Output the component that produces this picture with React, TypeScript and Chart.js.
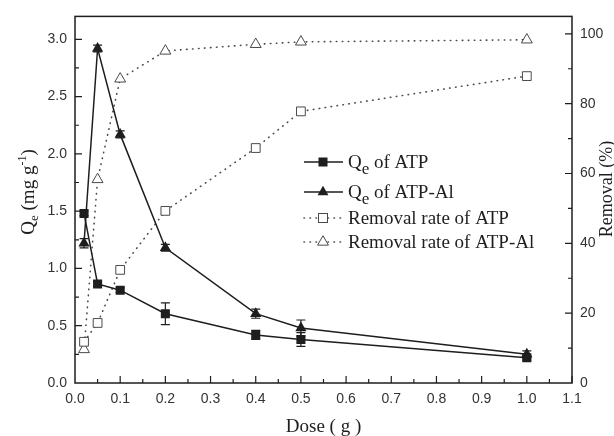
import React, { useEffect, useRef } from "react";
import { Chart, registerables } from "chart.js";

Chart.register(...registerables);

const doses = [0.02, 0.05, 0.1, 0.2, 0.4, 0.5, 1.0];
const qeATP = [1.48, 0.865, 0.81, 0.605, 0.42, 0.38, 0.22];
const qeATPErr = [0.02, 0.02, 0.02, 0.095, 0.04, 0.06, 0.02];
const qeATPAl = [1.22, 2.92, 2.17, 1.18, 0.605, 0.48, 0.25];
const qeATPAlErr = [0.04, 0.03, 0.03, 0.03, 0.04, 0.07, 0.03];
const removalATP = [11.8, 17.2, 32.4, 49.3, 67.3, 77.8, 87.9];
const removalATPAl = [9.6, 58.3, 87.1, 95.1, 97.0, 97.7, 98.3];

const xTicks = [0, 0.1, 0.2, 0.3, 0.4, 0.5, 0.6, 0.7, 0.8, 0.9, 1.0, 1.1];
const yTicks = [0, 0.5, 1.0, 1.5, 2.0, 2.5, 3.0];
const y1Ticks = [0, 20, 40, 60, 80, 100];

const SERIF = "'Liberation Serif', 'Times New Roman', serif";
const SANS = "'Liberation Sans', Arial, sans-serif";
const INK = "#1e1e1e";
const GRAY = "#4a4a4a";

const pts = (ys: number[]) => doses.map((x, i) => ({ x, y: ys[i] }));

const errorBarPlugin = {
  id: "errorBars",
  beforeDatasetsDraw(chart: any) {
    const ctx = chart.ctx;
    const xs = chart.scales.x;
    const ys = chart.scales.y;
    const sets = [
      { v: qeATP, e: qeATPErr },
      { v: qeATPAl, e: qeATPAlErr },
    ];
    ctx.save();
    ctx.strokeStyle = INK;
    ctx.lineWidth = 1.2;
    sets.forEach((s) => {
      doses.forEach((d, i) => {
        const px = xs.getPixelForValue(d);
        const y1 = ys.getPixelForValue(s.v[i] + s.e[i]);
        const y2 = ys.getPixelForValue(s.v[i] - s.e[i]);
        ctx.beginPath();
        ctx.moveTo(px, y1);
        ctx.lineTo(px, y2);
        ctx.moveTo(px - 4.5, y1);
        ctx.lineTo(px + 4.5, y1);
        ctx.moveTo(px - 4.5, y2);
        ctx.lineTo(px + 4.5, y2);
        ctx.stroke();
      });
    });
    ctx.restore();
  },
};

function drawMarker(ctx: any, kind: string, x: number, y: number) {
  ctx.save();
  if (kind === "fsq" || kind === "osq") {
    const s = 9;
    if (kind === "fsq") {
      ctx.fillStyle = INK;
      ctx.fillRect(x - s / 2, y - s / 2, s, s);
    } else {
      ctx.fillStyle = "#fff";
      ctx.strokeStyle = GRAY;
      ctx.lineWidth = 1;
      ctx.fillRect(x - s / 2, y - s / 2, s, s);
      ctx.strokeRect(x - s / 2, y - s / 2, s, s);
    }
  } else {
    const r = 6.3;
    ctx.beginPath();
    ctx.moveTo(x, y - r);
    ctx.lineTo(x + r * 0.866, y + r * 0.5);
    ctx.lineTo(x - r * 0.866, y + r * 0.5);
    ctx.closePath();
    if (kind === "ftri") {
      ctx.fillStyle = INK;
      ctx.fill();
    } else {
      ctx.fillStyle = "#fff";
      ctx.fill();
      ctx.strokeStyle = GRAY;
      ctx.lineWidth = 1;
      ctx.stroke();
    }
  }
  ctx.restore();
}

const framePlugin = {
  id: "frameAndText",
  afterDraw(chart: any) {
    const ctx = chart.ctx;
    const { left, right, top, bottom } = chart.chartArea;
    const xs = chart.scales.x;
    const ys = chart.scales.y;
    const y1s = chart.scales.y1;
    ctx.save();
    ctx.strokeStyle = INK;
    ctx.lineWidth = 1.5;
    ctx.strokeRect(left, top, right - left, bottom - top);
    ctx.lineWidth = 1.2;
    ctx.beginPath();
    for (let i = 1; i <= 22; i++) {
      const px = xs.getPixelForValue(i * 0.05);
      const len = i % 2 === 0 ? 7 : 4;
      ctx.moveTo(px, bottom);
      ctx.lineTo(px, bottom - len);
    }
    for (let i = 1; i <= 12; i++) {
      const py = ys.getPixelForValue(i * 0.25);
      const len = i % 2 === 0 ? 7 : 4;
      ctx.moveTo(left, py);
      ctx.lineTo(left + len, py);
    }
    for (let i = 1; i <= 10; i++) {
      const py = y1s.getPixelForValue(i * 10);
      const len = i % 2 === 0 ? 7 : 4;
      ctx.moveTo(right, py);
      ctx.lineTo(right - len, py);
    }
    ctx.stroke();

    // axis titles
    ctx.fillStyle = INK;
    ctx.textBaseline = "alphabetic";
    ctx.font = `19px ${SERIF}`;
    ctx.textAlign = "center";
    ctx.fillText("Dose ( g )", (left + right) / 2 - 0, 432);

    // left title (rotated)
    ctx.save();
    ctx.translate(34, 192);
    ctx.rotate(-Math.PI / 2);
    const parts: { t: string; size: number; dy: number }[] = [
      { t: "Q", size: 19, dy: 0 },
      { t: "e", size: 13, dy: 4 },
      { t: " (mg g", size: 19, dy: 0 },
      { t: "-1", size: 12, dy: -8 },
      { t: ")", size: 19, dy: 0 },
    ];
    let total = 0;
    parts.forEach((p) => {
      ctx.font = `${p.size}px ${SERIF}`;
      total += ctx.measureText(p.t).width;
    });
    let cx = -total / 2;
    ctx.textAlign = "left";
    parts.forEach((p) => {
      ctx.font = `${p.size}px ${SERIF}`;
      ctx.fillText(p.t, cx, p.dy);
      cx += ctx.measureText(p.t).width;
    });
    ctx.restore();

    // right title
    ctx.save();
    ctx.translate(612, 189);
    ctx.rotate(-Math.PI / 2);
    ctx.font = `18px ${SERIF}`;
    ctx.textAlign = "center";
    ctx.fillText("Removal (%)", 0, 0);
    ctx.restore();

    // legend
    const rows = [
      { y: 162, solid: true, marker: "fsq", label: "ATP", q: true },
      { y: 192, solid: true, marker: "ftri", label: "ATP-Al", q: true },
      { y: 218, solid: false, marker: "osq", label: "Removal rate of ATP", q: false },
      { y: 242, solid: false, marker: "otri", label: "Removal rate of ATP-Al", q: false },
    ];
    rows.forEach((r) => {
      ctx.save();
      ctx.beginPath();
      if (r.solid) {
        ctx.strokeStyle = INK;
        ctx.lineWidth = 1.5;
        ctx.setLineDash([]);
      } else {
        ctx.strokeStyle = GRAY;
        ctx.lineWidth = 1.6;
        ctx.lineCap = "round";
        ctx.setLineDash([0.5, 5.5]);
      }
      ctx.moveTo(304, r.y);
      ctx.lineTo(343, r.y);
      ctx.stroke();
      ctx.restore();
      drawMarker(ctx, r.marker, 323, r.y);
      ctx.fillStyle = INK;
      ctx.textAlign = "left";
      ctx.font = `19px ${SERIF}`;
      let tx = 348;
      const base = r.y + 6;
      if (r.q) {
        ctx.fillText("Q", tx, base);
        tx += ctx.measureText("Q").width;
        ctx.font = `17px ${SERIF}`;
        ctx.fillText("e", tx, base + 6);
        tx += ctx.measureText("e").width;
        ctx.font = `19px ${SERIF}`;
        ctx.fillText(" of " + r.label, tx, base);
      } else {
        ctx.fillText(r.label, tx, base);
      }
    });
    ctx.restore();
  },
};

export default function App() {
  const ref = useRef<HTMLCanvasElement | null>(null);
  useEffect(() => {
    if (!ref.current) return;
    const chart = new Chart(ref.current, {
      type: "line",
      data: {
        datasets: [
          {
            label: "Qe of ATP",
            data: pts(qeATP),
            yAxisID: "y",
            borderColor: INK,
            borderWidth: 1.5,
            pointStyle: "rect",
            pointRadius: 6.4,
            pointBackgroundColor: INK,
            pointBorderColor: INK,
            pointBorderWidth: 0,
            order: 0,
          },
          {
            label: "Qe of ATP-Al",
            data: pts(qeATPAl),
            yAxisID: "y",
            borderColor: INK,
            borderWidth: 1.5,
            pointStyle: "triangle",
            pointRadius: 6.5,
            pointBackgroundColor: INK,
            pointBorderColor: INK,
            pointBorderWidth: 0,
            order: 0,
          },
          {
            label: "Removal rate of ATP",
            data: pts(removalATP),
            yAxisID: "y1",
            borderColor: GRAY,
            borderWidth: 1.6,
            borderDash: [0.5, 5.5],
            borderCapStyle: "round",
            pointStyle: "rect",
            pointRadius: 6.2,
            pointBackgroundColor: "#fff",
            pointBorderColor: GRAY,
            pointBorderWidth: 1,
            order: 1,
          },
          {
            label: "Removal rate of ATP-Al",
            data: pts(removalATPAl),
            yAxisID: "y1",
            borderColor: GRAY,
            borderWidth: 1.6,
            borderDash: [0.5, 5.5],
            borderCapStyle: "round",
            pointStyle: "triangle",
            pointRadius: 6.3,
            pointBackgroundColor: "#fff",
            pointBorderColor: GRAY,
            pointBorderWidth: 1,
            order: 1,
          },
        ] as any,
      },
      plugins: [errorBarPlugin, framePlugin],
      options: {
        animation: false,
        responsive: false,
        devicePixelRatio: 1,
        layout: { padding: { top: 14, left: 0, right: 0, bottom: 0 } },
        plugins: { legend: { display: false }, tooltip: { enabled: false } },
        scales: {
          x: {
            type: "linear",
            min: 0,
            max: 1.1,
            grid: { display: false, drawTicks: false },
            border: { display: false },
            afterFit: (s: any) => {
              s.height = 53;
            },
            afterBuildTicks: (s: any) => {
              s.ticks = xTicks.map((v) => ({ value: v }));
            },
            ticks: {
              padding: 8,
              color: "#333",
              font: { family: SANS, size: 14 },
              callback: (v: any) => Number(v).toFixed(1),
              maxRotation: 0,
              autoSkip: false,
            },
          },
          y: {
            type: "linear",
            position: "left",
            min: 0,
            max: 3.2,
            grid: { display: false, drawTicks: false },
            border: { display: false },
            afterFit: (s: any) => {
              s.width = 75;
            },
            afterBuildTicks: (s: any) => {
              s.ticks = yTicks.map((v) => ({ value: v }));
            },
            ticks: {
              padding: 8,
              color: "#333",
              font: { family: SANS, size: 14 },
              callback: (v: any) => Number(v).toFixed(1),
            },
          },
          y1: {
            type: "linear",
            position: "right",
            min: 0,
            max: 105,
            grid: { display: false, drawTicks: false },
            border: { display: false },
            afterFit: (s: any) => {
              s.width = 42;
            },
            afterBuildTicks: (s: any) => {
              s.ticks = y1Ticks.map((v) => ({ value: v }));
            },
            ticks: {
              padding: 8,
              color: "#333",
              font: { family: SANS, size: 14 },
              callback: (v: any) => String(v),
            },
          },
        },
      } as any,
    });
    return () => chart.destroy();
  }, []);
  return (
    <div style={{ position: "fixed", left: 0, top: 0, width: 614, height: 436, background: "#fff" }}>
      <canvas ref={ref} width={614} height={436} />
    </div>
  );
}
